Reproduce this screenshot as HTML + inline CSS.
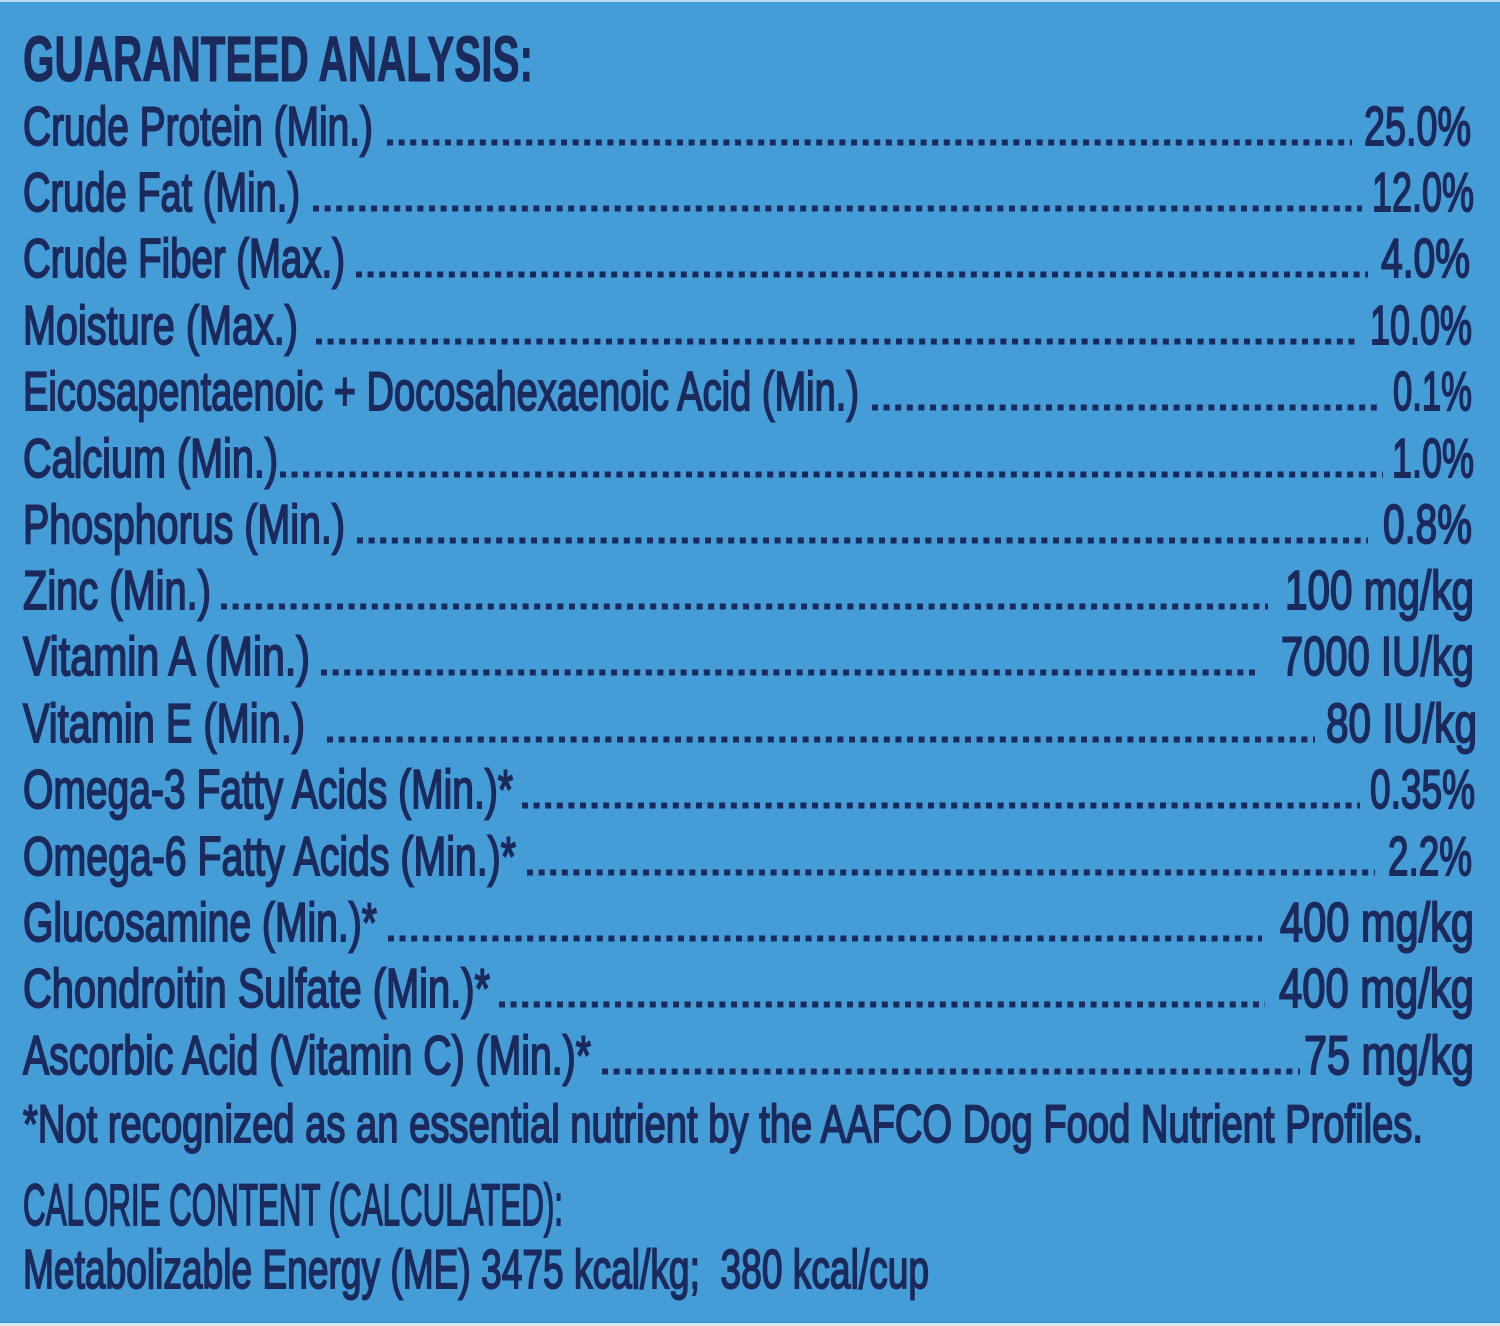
<!DOCTYPE html>
<html>
<head>
<meta charset="utf-8">
<style>
  html, body { margin: 0; padding: 0; background: #459dd7; }
  svg { display: block; }
  text { font-family: "Liberation Sans Narrow", "Liberation Sans", sans-serif; fill: #1b295b; stroke: #1b295b; stroke-width: 1.9; paint-order: stroke; }
  .h { font-weight: bold; stroke-width: 1.0; }
  .dots { stroke: #1b295b; stroke-width: 6; stroke-dasharray: 6 5.6; }
</style>
</head>
<body>
<svg width="1500" height="1326" viewBox="0 0 1500 1326" xmlns="http://www.w3.org/2000/svg">
  <rect x="0" y="0" width="1500" height="1326" fill="#459dd7"/>
  <rect x="0" y="0" width="1500" height="2" fill="#bcdcf0"/>
  <rect x="0" y="1322" width="1500" height="1" fill="#3b8cc4"/>
  <rect x="0" y="1323" width="1500" height="3" fill="#d2eaf7"/>

  <text class="h" x="23" y="81" font-size="64" textLength="510" lengthAdjust="spacingAndGlyphs">GUARANTEED ANALYSIS:</text>

  <text x="23" y="145" font-size="55" textLength="350" lengthAdjust="spacingAndGlyphs">Crude Protein (Min.)</text>
  <line class="dots" x1="387" y1="142.5" x2="1352" y2="142.5"/>
  <text x="1364" y="145" font-size="55" textLength="107" lengthAdjust="spacingAndGlyphs">25.0%</text>

  <text x="23" y="211" font-size="55" textLength="277" lengthAdjust="spacingAndGlyphs">Crude Fat (Min.)</text>
  <line class="dots" x1="313" y1="208.5" x2="1362" y2="208.5"/>
  <text x="1372" y="211" font-size="55" textLength="102" lengthAdjust="spacingAndGlyphs">12.0%</text>

  <text x="23" y="277" font-size="55" textLength="322" lengthAdjust="spacingAndGlyphs">Crude Fiber (Max.)</text>
  <line class="dots" x1="356" y1="274.5" x2="1368" y2="274.5"/>
  <text x="1381" y="277" font-size="55" textLength="89" lengthAdjust="spacingAndGlyphs">4.0%</text>

  <text x="23" y="344" font-size="55" textLength="275" lengthAdjust="spacingAndGlyphs">Moisture (Max.)</text>
  <line class="dots" x1="316" y1="341.5" x2="1355" y2="341.5"/>
  <text x="1370" y="344" font-size="55" textLength="102" lengthAdjust="spacingAndGlyphs">10.0%</text>

  <text x="23" y="410" font-size="55" textLength="836" lengthAdjust="spacingAndGlyphs">Eicosapentaenoic + Docosahexaenoic Acid (Min.)</text>
  <line class="dots" x1="872" y1="407.5" x2="1380" y2="407.5"/>
  <text x="1393" y="410" font-size="55" textLength="79" lengthAdjust="spacingAndGlyphs">0.1%</text>

  <text x="23" y="477" font-size="55" textLength="255" lengthAdjust="spacingAndGlyphs">Calcium (Min.)</text>
  <line class="dots" x1="280" y1="474.5" x2="1383" y2="474.5"/>
  <text x="1392" y="477" font-size="55" textLength="82" lengthAdjust="spacingAndGlyphs">1.0%</text>

  <text x="23" y="543" font-size="55" textLength="322" lengthAdjust="spacingAndGlyphs">Phosphorus (Min.)</text>
  <line class="dots" x1="357" y1="540.5" x2="1368" y2="540.5"/>
  <text x="1383" y="543" font-size="55" textLength="89" lengthAdjust="spacingAndGlyphs">0.8%</text>

  <text x="23" y="609" font-size="55" textLength="188" lengthAdjust="spacingAndGlyphs">Zinc (Min.)</text>
  <line class="dots" x1="221" y1="606.5" x2="1268" y2="606.5"/>
  <text x="1285" y="609" font-size="55" textLength="189" lengthAdjust="spacingAndGlyphs">100 mg/kg</text>

  <text x="23" y="675" font-size="55" textLength="287" lengthAdjust="spacingAndGlyphs">Vitamin A (Min.)</text>
  <line class="dots" x1="321" y1="672.5" x2="1260" y2="672.5"/>
  <text x="1281" y="675" font-size="55" textLength="193" lengthAdjust="spacingAndGlyphs">7000 IU/kg</text>

  <text x="23" y="742" font-size="55" textLength="282" lengthAdjust="spacingAndGlyphs">Vitamin E (Min.)</text>
  <line class="dots" x1="327" y1="739.5" x2="1315" y2="739.5"/>
  <text x="1326" y="742" font-size="55" textLength="151" lengthAdjust="spacingAndGlyphs">80 IU/kg</text>

  <text x="23" y="808" font-size="55" textLength="490" lengthAdjust="spacingAndGlyphs">Omega-3 Fatty Acids (Min.)*</text>
  <line class="dots" x1="522" y1="805.5" x2="1360" y2="805.5"/>
  <text x="1370" y="808" font-size="55" textLength="105" lengthAdjust="spacingAndGlyphs">0.35%</text>

  <text x="23" y="875" font-size="55" textLength="493" lengthAdjust="spacingAndGlyphs">Omega-6 Fatty Acids (Min.)*</text>
  <line class="dots" x1="527" y1="872.5" x2="1375" y2="872.5"/>
  <text x="1388" y="875" font-size="55" textLength="84" lengthAdjust="spacingAndGlyphs">2.2%</text>

  <text x="23" y="941" font-size="55" textLength="354" lengthAdjust="spacingAndGlyphs">Glucosamine (Min.)*</text>
  <line class="dots" x1="388" y1="938.5" x2="1262" y2="938.5"/>
  <text x="1280" y="941" font-size="55" textLength="194" lengthAdjust="spacingAndGlyphs">400 mg/kg</text>

  <text x="23" y="1007" font-size="55" textLength="467" lengthAdjust="spacingAndGlyphs">Chondroitin Sulfate (Min.)*</text>
  <line class="dots" x1="499" y1="1004.5" x2="1265" y2="1004.5"/>
  <text x="1279" y="1007" font-size="55" textLength="195" lengthAdjust="spacingAndGlyphs">400 mg/kg</text>

  <text x="23" y="1074" font-size="55" textLength="568" lengthAdjust="spacingAndGlyphs">Ascorbic Acid (Vitamin C) (Min.)*</text>
  <line class="dots" x1="602" y1="1071.5" x2="1300" y2="1071.5"/>
  <text x="1304" y="1074" font-size="55" textLength="170" lengthAdjust="spacingAndGlyphs">75 mg/kg</text>

  <text x="23" y="1142" font-size="53" textLength="1400" lengthAdjust="spacingAndGlyphs">*Not recognized as an essential nutrient by the AAFCO Dog Food Nutrient Profiles.</text>

  <text x="23" y="1225" font-size="58" textLength="540" lengthAdjust="spacingAndGlyphs">CALORIE CONTENT (CALCULATED):</text>
  <text x="23" y="1288" font-size="55" textLength="906" lengthAdjust="spacingAndGlyphs" xml:space="preserve">Metabolizable Energy (ME) 3475 kcal/kg;  380 kcal/cup</text>
</svg>
</body>
</html>
